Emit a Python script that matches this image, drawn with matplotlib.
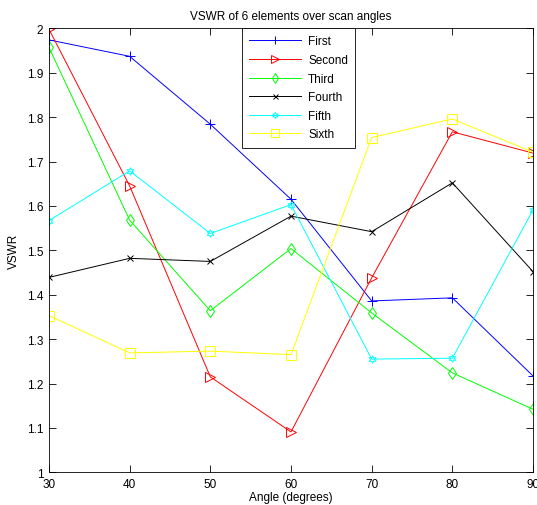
import numpy as np
import matplotlib
matplotlib.use("Agg")
import matplotlib.pyplot as plt

angles = [30, 40, 50, 60, 70, 80, 90]
first = [1.974, 1.937, 1.784, 1.615, 1.386, 1.393, 1.217]
second = [1.998, 1.645, 1.215, 1.091, 1.438, 1.767, 1.719]
third = [1.957, 1.568, 1.364, 1.504, 1.359, 1.224, 1.142]
fourth = [1.439, 1.482, 1.475, 1.577, 1.542, 1.652, 1.452]
fifth = [1.567, 1.679, 1.538, 1.603, 1.255, 1.257, 1.591]
sixth = [1.353, 1.269, 1.273, 1.265, 1.754, 1.796, 1.721]
names = ["First", "Second", "Third", "Fourth", "Fifth", "Sixth"]

plt.rcParams['font.family'] = ['Liberation Sans', 'DejaVu Sans']

fig = plt.figure(figsize=(5.37, 5.06), dpi=100)
ax = fig.add_axes([0.0912, 0.0646, 0.9014, 0.8774])

series = [first, second, third, fourth, fifth, sixth]
colors = ['#0000ff', '#ff0000', '#00ff00', '#000000', '#00ffff', '#ffff00']
markers = ['+', '>', 'd', 'x', (6, 1, 0), 's']
sizes = [7, 7, 6, 4.5, 5.5, 7]

for vals, name, c, m, s in zip(series, names, colors, markers, sizes):
    ax.plot(angles, vals, color=c, marker=m, markersize=s, linewidth=0.7,
            markerfacecolor='none', markeredgecolor=c, markeredgewidth=0.7,
            label=name)

ax.set_xlim(30, 90)
ax.set_ylim(1, 2)
ax.set_xticks(angles)
ax.set_yticks(np.arange(1, 2.01, 0.1))
ax.set_yticklabels(['1', '1.1', '1.2', '1.3', '1.4', '1.5', '1.6', '1.7',
                    '1.8', '1.9', '2'])
ax.tick_params(direction='in', top=True, right=True, length=5,
               labelsize=8.5, width=0.6, pad=4)
for sp in ax.spines.values():
    sp.set_linewidth(0.6)

ax.set_xlabel('Angle (degrees)', fontsize=8.5, labelpad=1)
ax.set_ylabel('VSWR', fontsize=8.5, labelpad=5)
ax.set_title('VSWR of 6 elements over scan angles', fontsize=8.5, pad=7)

leg = ax.legend(loc='upper left', bbox_to_anchor=(0.399, 1.0), fontsize=8.5,
                fancybox=False, edgecolor='black', framealpha=1,
                borderaxespad=0, handlelength=4.4, handletextpad=0.6,
                labelspacing=0.56, borderpad=0.6, markerscale=0.8)
leg.get_frame().set_linewidth(0.6)

fig.savefig('out.png', dpi=100)
